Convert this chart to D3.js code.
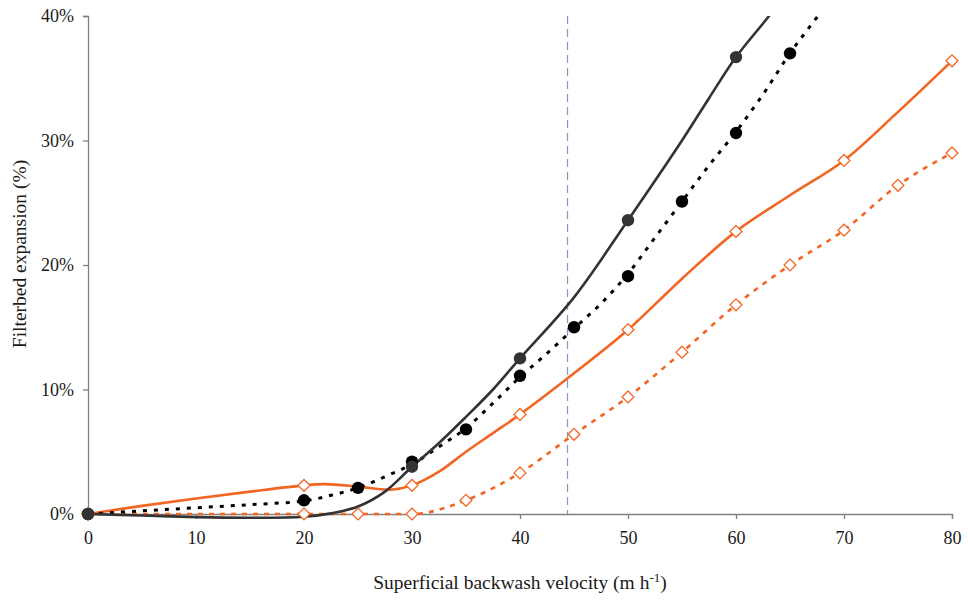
<!DOCTYPE html>
<html>
<head>
<meta charset="utf-8">
<script src="https://cdn.jsdelivr.net/npm/d3@7"></script>
<style>
  html, body { margin: 0; padding: 0; background: #fff; }
  text { font-family: "Liberation Serif", "Times New Roman", serif; fill: #1a1a1a; }
</style>
</head>
<body>
<svg id="chart" width="968" height="600"></svg>
<script>
// ---------- data ----------
const xTicks = [0, 10, 20, 30, 40, 50, 60, 70, 80];
const yTicks = [0, 10, 20, 30, 40];
const refLineX = 44.4;

// dark grey solid series: markers and drawn curve
const greyMarkX = [0, 30, 40, 50, 60];
const greyMarkY = [0, 3.8, 12.5, 23.6, 36.7];
const greyLineX = [0, 5, 10, 15, 20, 22.5, 25, 27.5, 30, 32.5, 35, 37.5, 40, 45, 50, 55, 57.5, 60, 62.5, 65];
const greyLineY = [0, -0.12, -0.25, -0.3, -0.22, 0.05, 0.6, 1.8, 3.8, 5.7, 7.8, 10.0, 12.5, 17.4, 23.6, 30.0, 33.4, 36.7, 39.4, 42.1];

// black dotted series
const blackMarkX = [0, 20, 25, 30, 35, 40, 45, 50, 55, 60, 65];
const blackMarkY = [0, 1.1, 2.1, 4.2, 6.8, 11.1, 15.0, 19.1, 25.1, 30.6, 37.0];
const blackLineX = [0, 5, 10, 15, 20, 22.5, 25, 27.5, 30, 32.5, 35, 37.5, 40, 42.5, 45, 47.5, 50, 52.5, 55, 57.5, 60, 62.5, 65, 67.5, 70];
const blackLineY = [0, 0.25, 0.5, 0.75, 1.05, 1.5, 2.1, 3.0, 4.0, 5.4, 6.9, 8.9, 11.0, 12.9, 14.9, 16.9, 19.3, 22.2, 25.1, 28.0, 30.7, 33.7, 37.0, 39.9, 42.8];

// orange solid series
const orangeMarkX = [0, 20, 30, 40, 50, 60, 70, 80];
const orangeMarkY = [0, 2.3, 2.3, 8.0, 14.8, 22.7, 28.4, 36.4];
const orangeLineX = [0, 5, 10, 15, 20, 22, 25, 28, 30, 32.5, 35, 37.5, 40, 45, 50, 55, 60, 65, 70, 75, 80];
const orangeLineY = [0, 0.65, 1.25, 1.8, 2.3, 2.4, 2.2, 1.95, 2.3, 3.4, 5.0, 6.5, 8.0, 11.3, 14.8, 18.9, 22.7, 25.6, 28.4, 32.3, 36.4];

// orange dashed series
const orangeDashX = [0, 20, 25, 30, 35, 40, 45, 50, 55, 60, 65, 70, 75, 80];
const orangeDashY = [0, 0, 0, 0, 1.1, 3.3, 6.4, 9.4, 13.0, 16.8, 20.0, 22.8, 26.4, 29.0];

// ---------- drawing ----------
const svg = d3.select("#chart");
const margin = { left: 88, right: 16, top: 16, bottom: 86 };
const W = 968, H = 600;
const x = d3.scaleLinear().domain([0, 80]).range([margin.left, W - margin.right]);
const y = d3.scaleLinear().domain([0, 40]).range([H - margin.bottom, margin.top]);

const ORANGE = "#f26522";
const GREY = "#333333";
const AXIS = "#808080";

svg.append("defs").append("clipPath").attr("id", "clip")
  .append("rect").attr("x", 0).attr("y", y(40)).attr("width", W).attr("height", H - y(40));

// axes
const xAxis = svg.append("g").attr("transform", `translate(0,${y(0)})`)
  .call(d3.axisBottom(x).tickValues(xTicks).tickSize(5).tickPadding(12).tickFormat(d3.format("d")));
const yAxis = svg.append("g").attr("transform", `translate(${x(0)},0)`)
  .call(d3.axisLeft(y).tickValues(yTicks).tickSize(5).tickPadding(9).tickFormat(d => d + "%"));
[xAxis, yAxis].forEach(g => {
  g.select(".domain").attr("stroke", AXIS).attr("stroke-width", 1.3);
  g.selectAll(".tick line").attr("stroke", AXIS).attr("stroke-width", 1.3);
  g.selectAll(".tick text").attr("font-size", 18).attr("fill", "#1a1a1a")
    .attr("font-family", "Liberation Serif, serif");
});

// reference vertical dashed line
svg.append("line")
  .attr("x1", x(refLineX)).attr("x2", x(refLineX))
  .attr("y1", y(40)).attr("y2", y(0))
  .attr("stroke", "#8794c4").attr("stroke-width", 1.2).attr("stroke-dasharray", "8,5");

const smooth = d3.line().x(d => x(d[0])).y(d => y(d[1])).curve(d3.curveCatmullRom.alpha(0.5));
const mono = d3.line().x(d => x(d[0])).y(d => y(d[1])).curve(d3.curveMonotoneX);
const zip = (a, b) => a.map((v, i) => [v, b[i]]);
const plot = svg.append("g").attr("clip-path", "url(#clip)");

const diamond = d3.symbol().type(d3.symbolDiamond2).size(90);

// orange dashed
plot.append("path").attr("d", mono(zip(orangeDashX, orangeDashY)))
  .attr("fill", "none").attr("stroke", ORANGE).attr("stroke-width", 2.6)
  .attr("stroke-dasharray", "5,6");
svg.append("g").selectAll("path").data(zip(orangeDashX, orangeDashY)).join("path")
  .attr("d", diamond).attr("transform", d => `translate(${x(d[0])},${y(d[1])})`)
  .attr("fill", "#fff").attr("stroke", ORANGE).attr("stroke-width", 1.3);

// orange solid
plot.append("path").attr("d", smooth(zip(orangeLineX, orangeLineY)))
  .attr("fill", "none").attr("stroke", ORANGE).attr("stroke-width", 2.6);
svg.append("g").selectAll("path").data(zip(orangeMarkX, orangeMarkY)).join("path")
  .attr("d", diamond).attr("transform", d => `translate(${x(d[0])},${y(d[1])})`)
  .attr("fill", "#fff").attr("stroke", ORANGE).attr("stroke-width", 1.3);

// black dotted
plot.append("path").attr("d", smooth(zip(blackLineX, blackLineY)))
  .attr("fill", "none").attr("stroke", "#000").attr("stroke-width", 3)
  .attr("stroke-dasharray", "4,7");
svg.append("g").selectAll("circle").data(zip(blackMarkX, blackMarkY)).join("circle")
  .attr("cx", d => x(d[0])).attr("cy", d => y(d[1])).attr("r", 6.2).attr("fill", "#000");

// grey solid
plot.append("path").attr("d", smooth(zip(greyLineX, greyLineY)))
  .attr("fill", "none").attr("stroke", GREY).attr("stroke-width", 2.6);
svg.append("g").selectAll("circle").data(zip(greyMarkX, greyMarkY)).join("circle")
  .attr("cx", d => x(d[0])).attr("cy", d => y(d[1])).attr("r", 6.2).attr("fill", GREY);

// axis titles
const xt = svg.append("text").attr("x", (x(0) + x(80)) / 2).attr("y", 589)
  .attr("text-anchor", "middle").attr("font-size", 19.5);
xt.append("tspan").text("Superficial backwash velocity (m h");
xt.append("tspan").attr("dy", -7).attr("font-size", 13).text("-1");
xt.append("tspan").attr("dy", 7).text(")");

svg.append("text")
  .attr("transform", `translate(26,${(y(0) + y(40)) / 2 - 11}) rotate(-90)`)
  .attr("text-anchor", "middle").attr("font-size", 19.5)
  .text("Filterbed expansion (%)");
</script>
</body>
</html>
